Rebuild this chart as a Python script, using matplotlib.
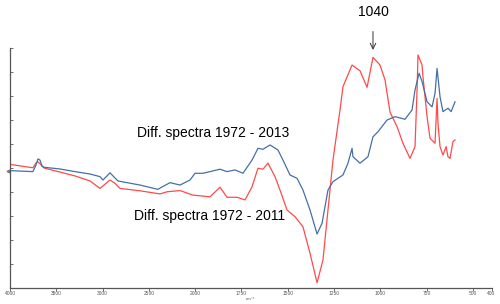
import numpy as np
import matplotlib
matplotlib.use("Agg")
import matplotlib.pyplot as plt

# difference spectra (wavenumber cm-1, arbitrary units)
wn_2013 = [4000, 3752, 3719, 3698, 3676, 3654, 3633, 3460, 3298, 3136, 3028, 2996,
           2920, 2888, 2834, 2596, 2402, 2358, 2272, 2164, 2056, 2002, 1958, 1866,
           1828, 1785, 1742, 1693, 1661, 1634, 1596, 1553, 1526, 1488, 1450, 1418,
           1380, 1342, 1315, 1283, 1256, 1202, 1175, 1153, 1148, 1110, 1067, 1040,
           1013, 964, 921, 867, 829, 813, 791, 775, 748, 721, 705, 694, 678, 662,
           635, 618, 597]
diff_2013 = [-0.11, -0.15, 0.13, 0.38, 0.33, 0.08, 0.03, -0.04, -0.15, -0.25, -0.36, -0.5,
             -0.2, -0.33, -0.54, -0.71, -0.89, -0.79, -0.61, -0.71, -0.5, -0.22, -0.22, -0.05,
             -0.15, -0.08, -0.22, 0.33, 0.82, 0.78, 0.96, 0.75, 0.33, -0.29, -0.43, -0.92,
             -1.75, -2.75, -2.3, -0.92, -0.57, -0.29, 0.2, 0.82, 0.47, 0.2, 0.47, 1.3,
             1.51, 2.0, 2.14, 2.03, 2.42, 3.25, 3.95, 3.6, 2.76, 2.55, 3.11, 4.15, 2.97, 2.35,
             2.49, 2.35, 2.76]

wn_2011 = [4000, 3752, 3719, 3698, 3665, 3633, 3460, 3298, 3136, 3028, 2920, 2866,
           2812, 2596, 2380, 2304, 2164, 2024, 1920, 1866, 1828, 1774, 1731, 1693,
           1661, 1634, 1607, 1569, 1542, 1504, 1461, 1418, 1380, 1342, 1310, 1283,
           1256, 1218, 1202, 1153, 1110, 1072, 1040, 1002, 975, 948, 910, 878, 840,
           813, 802, 797, 775, 770, 748, 732, 705, 694, 689, 678, 662, 645, 635, 624,
           608, 597]
diff_2011 = [0.15, 0.01, 0.21, 0.26, 0.13, 0.0, -0.17, -0.33, -0.54, -0.85, -0.5, -0.64,
             -0.85, -0.95, -1.08, -0.99, -0.94, -1.13, -1.2, -0.8, -1.22, -1.22, -1.33, -0.78,
             -0.01, -0.05, 0.2, -0.36, -0.92, -1.75, -2.03, -2.45, -3.55, -4.78, -3.83, -1.75,
             0.33, 2.42, 3.39, 4.29, 4.05, 3.36, 4.61, 4.29, 3.67, 2.33, 1.72, 1.03, 0.4,
             0.89, 3.25, 4.71, 4.29, 3.8, 2.14, 1.24, 1.03, 2.9, 1.86, 0.89, 0.54, 0.89, 0.47, 0.4,
             1.1, 1.17]

xticks = [4000, 3500, 3000, 2500, 2000, 1750, 1500, 1250, 1000, 750, 500, 400]
peak = 1040


# spectrometer axis: 500 cm-1 per division above 2000, 250 below
def fwd(w):
    w = np.asarray(w, dtype=float)
    return np.where(w >= 2000, (4000 - w) / 500, 4 + (2000 - w) / 250)


def inv(p):
    p = np.asarray(p, dtype=float)
    return np.where(p <= 4, 4000 - 500 * p, 2000 - 250 * (p - 4))


plt.rcParams['font.family'] = ['Liberation Sans', 'DejaVu Sans']

fig = plt.figure(figsize=(5, 3.04), dpi=100)
ax = fig.add_axes([0.02, 0.0526, 0.963, 0.7895])
ax.set_xscale('function', functions=(fwd, inv))

ax.plot(wn_2011, diff_2011, color='#ff4a4a', lw=0.9)
ax.plot(wn_2013, diff_2013, color='#4470a6', lw=0.9)

ax.set_xlim(400, 4000)
ax.set_ylim(-5, 5)
ax.set_xticks(xticks)
ax.set_xticklabels([str(t) for t in xticks])
ax.set_yticks(np.arange(-5, 6, 1))
ax.set_yticklabels([])
ax.tick_params(axis='x', direction='out', length=2, width=0.6, labelsize=3.5,
               pad=0.5, colors='#555555')
ax.tick_params(axis='y', direction='in', length=2, width=0.6, colors='#555555')

for side in ['top', 'right']:
    ax.spines[side].set_visible(False)
for side in ['left', 'bottom']:
    ax.spines[side].set_color('#555555')
    ax.spines[side].set_linewidth(0.9)

# unit label just under the tick labels
fig.text(0.502, 0.016, 'cm\u207b\u00b9', fontsize=3.2, ha='center', va='center',
         color='#555555')

# baseline marker on the left axis
ax.plot([-0.005], [-0.12], marker='<', ms=2, color='#777777',
        transform=ax.get_yaxis_transform(), clip_on=False)

ax.text(2628, 1.46, 'Diff. spectra 1972 - 2013', fontsize=10, ha='left', va='center')
ax.text(2661, -2.0, 'Diff. spectra 1972 - 2011', fontsize=10, ha='left', va='center')

ax.annotate(str(peak), xy=(peak, 4.92), xytext=(peak, 6.5),
            ha='center', va='center', fontsize=10, annotation_clip=False,
            arrowprops=dict(arrowstyle='->', color='#333333', lw=0.7,
                            shrinkA=7, shrinkB=0))

fig.savefig('out.png', dpi=100)
